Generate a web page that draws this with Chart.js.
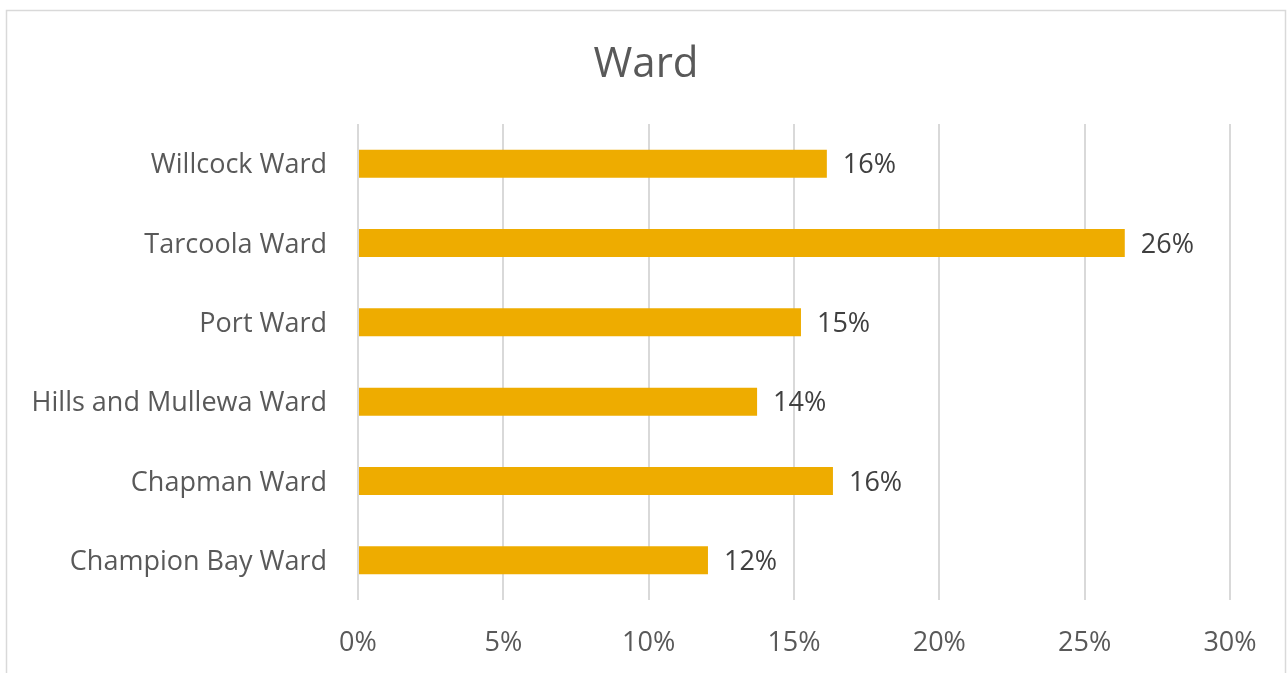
<!DOCTYPE html>
<html><head><meta charset="utf-8">
<script src="https://cdn.jsdelivr.net/npm/chart.js@4"></script>
<style>html,body{margin:0;padding:0;background:#fff;}#wrap{width:1287px;height:673px;position:relative;}</style>
</head><body><div id="wrap"><canvas id="c" width="1287" height="673"></canvas></div>
<script>
const categories = ["Willcock Ward","Tarcoola Ward","Port Ward","Hills and Mullewa Ward","Chapman Ward","Champion Bay Ward"];
const values = [16.13, 26.38, 15.24, 13.73, 16.34, 12.04];
const xTicks = [0,5,10,15,20,25,30];
const chartTitle = 'Ward';
const FONT = "'Open Sans', 'Noto Sans', sans-serif";

const framePlugin = {
  id:'frame',
  beforeDraw(chart){
    const ctx = chart.ctx;
    ctx.save();
    ctx.strokeStyle = '#d9d9d9';
    ctx.lineWidth = 1.5;
    ctx.beginPath();
    ctx.moveTo(6.5, 700); ctx.lineTo(6.5, 10.5); ctx.lineTo(1285.5, 10.5); ctx.lineTo(1285.5, 700);
    ctx.stroke();
    ctx.font = "42px " + FONT;
    ctx.fillStyle = '#595959';
    ctx.textAlign = 'center';
    ctx.textBaseline = 'middle';
    ctx.fillText(chartTitle, 646, 65);
    ctx.restore();
  }
};
const labelPlugin = {
  id:'barLabels',
  afterDatasetsDraw(chart){
    const ctx = chart.ctx;
    const meta = chart.getDatasetMeta(0);
    ctx.save();
    ctx.font = "27px " + FONT;
    ctx.fillStyle = '#404040';
    ctx.textAlign = 'left';
    ctx.textBaseline = 'middle';
    meta.data.forEach((el,i)=>{
      ctx.fillText(Math.round(values[i]) + '%', el.x + 16, el.y + 2);
    });
    ctx.restore();
  }
};

new Chart(document.getElementById('c'), {
  type:'bar',
  data:{ labels: categories, datasets:[{ data: values, backgroundColor:'#EEAC00', borderWidth:0, categoryPercentage:1, barPercentage:0.353 }] },
  options:{
    indexAxis:'y', responsive:false, animation:false,
    layout:{ padding:{ top:124, left:0, right:57, bottom:0 } },
    plugins:{ legend:{display:false}, tooltip:{enabled:false}, title:{display:false} },
    scales:{
      x:{ min:0, max:30, afterBuildTicks(s){ s.ticks = xTicks.map(v=>({value:v})); },
          grid:{ color:'#d9d9d9', lineWidth:2, drawTicks:false }, border:{display:false},
          ticks:{ color:'#595959', font:{family:FONT, size:27}, padding:27, callback:v=>v+'%' },
          afterFit(s){ s.height = 73; } },
      y:{ grid:{ display:false, drawTicks:false }, border:{display:false},
          ticks:{ color:'#595959', font:{family:FONT, size:27}, padding:31, labelOffset:2 },
          afterFit(s){ s.width = 358; } }
    }
  },
  plugins:[framePlugin, labelPlugin]
});
</script></body></html>
